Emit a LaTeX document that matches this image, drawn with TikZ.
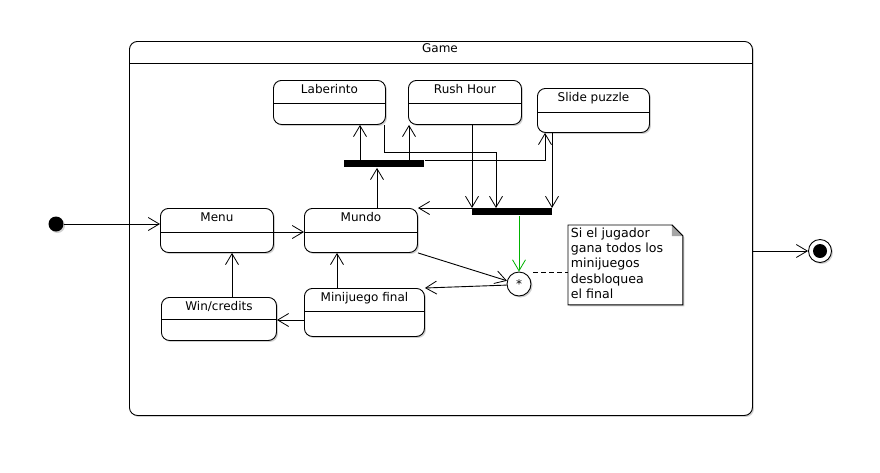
\documentclass[tikz,border=0pt]{standalone}
\usepackage{fontspec}
\setmainfont{DejaVu Sans}
\usetikzlibrary{arrows.meta,shadows}
\begin{document}
\begin{tikzpicture}[x=1pt,y=-1pt,
  font=\fontsize{12}{14}\selectfont,
  every path/.style={line width=0.9pt},
  arr/.style={-{Straight Barb[length=11pt,width=13pt,line width=0.8pt]}},
  shad/.style={drop shadow={shadow xshift=1.5pt,shadow yshift=-1.5pt,fill=black!30,opacity=0.6}},
  state/.style={draw,fill=white,rounded corners=8pt,inner sep=0pt,text height=13pt,shad},
  bar/.style={fill=black,draw=none,inner sep=0pt,minimum width=80pt,minimum height=7pt},
  div/.style={line width=0.9pt}]
\useasboundingbox (0,0) rectangle (880,472);
% frame
\node[draw,fill=white,rounded corners=8pt,inner sep=0pt,minimum width=623pt,minimum height=374pt,anchor=north west,shad] (game) at (129,41) {};
\node (gametitle) at (440,48.5) {Game};
\draw[div] (game.west |- 0,63) -- (game.east |- 0,63);
% states
\node[state,minimum width=113pt,text depth=31pt,anchor=north west] (menu) at (160,208) {Menu};
\node[state,minimum width=113pt,text depth=31pt,anchor=north west] (mundo) at (304,208) {Mundo};
\node[state,minimum width=115pt,text depth=30pt,anchor=north west] (win) at (161,297) {Win/credits};
\node[state,minimum width=120pt,text depth=35pt,anchor=north west] (minij) at (304,288) {Minijuego final};
\node[state,minimum width=112pt,text depth=31pt,anchor=north west] (lab) at (273,80) {Laberinto};
\node[state,minimum width=113pt,text depth=31pt,anchor=north west] (rush) at (408,80) {Rush Hour};
\node[state,minimum width=112pt,text depth=31pt,anchor=north west] (slide) at (537,88) {Slide puzzle};
\foreach \n/\d in {menu/24,mundo/24,win/22,minij/23,lab/23,rush/23,slide/24}
  \draw[div] ([yshift=-\d pt]\n.north west) -- ([yshift=-\d pt]\n.north east);
% bars
\node[bar,anchor=north west] (fork) at (344,160) {};
\node[bar,anchor=north west] (join) at (472,208) {};
% pseudo states
\node[circle,fill=black,inner sep=0pt,minimum size=15pt,shad] (init) at (56,224) {};
\node[circle,draw,fill=white,inner sep=0pt,minimum size=23pt,shad] (final) at (820,251) {};
\node[circle,fill=black,inner sep=0pt,minimum size=14pt] (finalin) at (final.center) {};
\node[circle,draw,fill=white,inner sep=0pt,minimum size=24pt,shad] (junc) at (519,284) {*};
% note
\node[anchor=north west,inner sep=0pt,minimum width=114pt,minimum height=79pt] (note) at (568,225) {};
\draw[fill=white,shad] (note.north west) -- ([xshift=-11pt]note.north east) -- ([yshift=-11pt]note.north east) -- (note.south east) -- (note.south west) -- cycle;
\fill[black!35] ([xshift=-11pt]note.north east) -- ([yshift=-11pt]note.north east) -- ([xshift=-11pt,yshift=-11pt]note.north east) -- cycle;
\draw ([xshift=-11pt]note.north east) -- ([yshift=-11pt]note.north east);
\node[anchor=north west,align=left,inner sep=0pt,font=\fontsize{12.6}{15.2}\selectfont] (notetext) at (570.5,227.5) {Si el jugador\\gana todos los\\minijuegos\\desbloquea\\el final};
% transitions
\draw[arr] (init.east) -- (init.east -| menu.west);
\draw[arr] (menu.east |- 0,232) -- (mundo.west |- 0,232);
\draw[arr] (win.north -| 232,0) -- (menu.south -| 232,0);
\draw[arr] (minij.north -| 337,0) -- (mundo.south -| 337,0);
\draw[arr] (minij.west |- 0,320) -- (win.east |- 0,320);
\draw[arr] (mundo.north -| 377,0) -- (fork.south -| 377,0);
\draw[arr] (fork.north -| 360,0) -- (lab.south -| 360,0);
\draw[arr] (fork.north -| 409,0) -- (rush.south -| 409,0);
\draw[arr] (fork.north east) -| (slide.south -| 545,0);
\draw[arr] (lab.south -| 384,0) -- (384,152) -| (join.north -| 496,0);
\draw[arr] (rush.south -| 472,0) -- (join.north -| 472,0);
\draw[arr] (slide.south -| 552,0) -- (join.north -| 552,0);
\draw[arr] (join.north west) -- (mundo.north east);
\draw[arr,draw=green!70!black] (join.south -| junc.north) -- (junc.north);
\draw[arr] (mundo.south east) -- (junc.165);
\draw[arr] (junc.185) -- (minij.north east);
\draw[dashed,dash pattern=on 5pt off 3pt] (533,272) -- (note.west |- 0,272);
\draw[arr] (game.east |- final.west) -- (final.west);
\end{tikzpicture}
\end{document}
